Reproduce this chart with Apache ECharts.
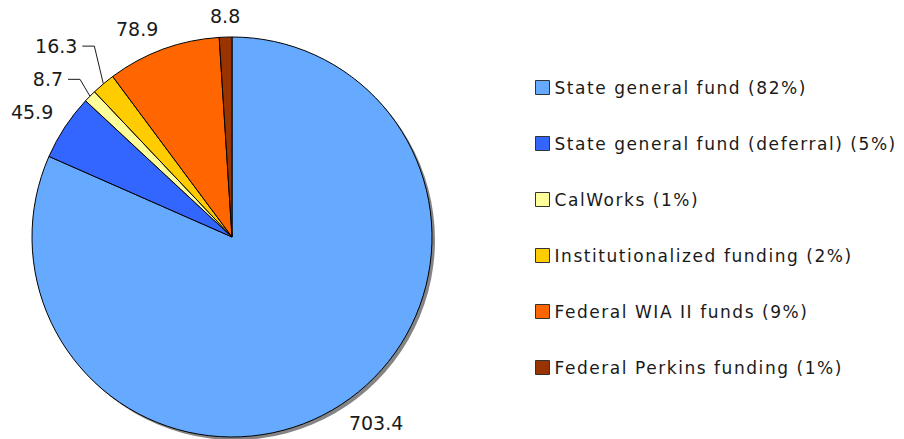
<!DOCTYPE html>
<html>
<head>
<meta charset="utf-8">
<script src="https://cdn.jsdelivr.net/npm/echarts@6/dist/echarts.min.js"></script>
<style>
  html, body { margin: 0; padding: 0; background: #fff; }
  #chart { width: 904px; height: 439px; }
</style>
</head>
<body>
<div id="chart"></div>
<script>
const categories = [
  'State general fund',
  'State general fund (deferral)',
  'CalWorks',
  'Institutionalized funding',
  'Federal WIA II funds',
  'Federal Perkins funding'
]
const amounts = [703.4, 45.9, 8.7, 16.3, 78.9, 8.8]
const colors = ['#66aaff', '#3366ff', '#ffff99', '#ffcc00', '#ff6600', '#993300']

// labels of the two thin slices are pulled aside and get a leader line
const leaderLabels = { 2: { up: 0 }, 3: { up: 20 } }

const total = amounts.reduce((a, b) => a + b, 0)
const fontFamily = '"DejaVu Sans", Verdana, sans-serif'

const chart = echarts.init(document.getElementById('chart'), null, { renderer: 'svg' })

const pieData = categories.map((name, i) => ({
  name: name,
  value: amounts[i],
  itemStyle: { color: colors[i] },
  labelLine: { show: leaderLabels[i] !== undefined }
}))

// put each label just outside the rim, on the side its slice points to
const placeLabel = function (params) {
  const pts = params.labelLinePoints
  if (!pts) return {}
  const p0 = pts[0]
  let dx = pts[1][0] - p0[0]
  let dy = pts[1][1] - p0[1]
  const len = Math.hypot(dx, dy) || 1
  dx /= len
  dy /= len
  const gap = 14
  const ax = p0[0] + dx * gap
  const ay = p0[1] + dy * gap
  const hw = params.labelRect.width / 2
  const hh = 7
  const sx = dx < -0.2 ? -1 : dx > 0.2 ? 1 : 0
  const sy = dy < -0.2 ? -1 : dy > 0.2 ? 1 : 0
  const lead = leaderLabels[params.dataIndex]
  if (lead) {
    const bendX = ax
    const cy = ay - hh - lead.up
    const right = bendX - 17
    return {
      x: right - hw,
      y: cy,
      align: 'center',
      verticalAlign: 'middle',
      labelLinePoints: [[p0[0], p0[1]], [bendX, cy], [right + 5, cy]]
    }
  }
  return {
    x: ax + sx * hw,
    y: ay + sy * hh,
    align: 'center',
    verticalAlign: 'middle'
  }
}

const option = {
  animation: false,
  legend: {
    data: categories,
    orient: 'vertical',
    left: 530,
    top: 74,
    itemWidth: 14,
    itemHeight: 14,
    itemGap: 39,
    icon: 'rect',
    itemStyle: { borderColor: '#333', borderWidth: 1 },
    textStyle: { fontFamily: fontFamily, fontSize: 17, color: '#1a1a1a' },
    formatter: function (name) {
      const v = amounts[categories.indexOf(name)]
      return name + ' (' + Math.round(v / total * 100) + '%)'
    },
    selectedMode: false
  },
  series: [
    {
      // drop shadow under the pie
      type: 'pie',
      silent: true,
      center: [235, 240],
      radius: 200,
      label: { show: false },
      labelLine: { show: false },
      legendHoverLink: false,
      data: [{ name: 'shadow', value: 1, itemStyle: { color: '#858585' } }],
      z: 1
    },
    {
      type: 'pie',
      center: [232, 237],
      radius: 200,
      startAngle: 90,
      clockwise: true,
      avoidLabelOverlap: false,
      itemStyle: { borderColor: '#000', borderWidth: 1 },
      label: {
        show: true,
        position: 'outside',
        fontFamily: fontFamily,
        fontSize: 19,
        color: '#1a1a1a',
        formatter: p => p.value.toFixed(1)
      },
      labelLine: {
        length: 10,
        length2: 0,
        lineStyle: { color: '#1a1a1a', width: 1 }
      },
      labelLayout: placeLabel,
      data: pieData,
      z: 2
    }
  ]
}

chart.setOption(option)

// the legend text in the original is set a little wider
const spreadLegend = function () {
  document.querySelectorAll('#chart text').forEach(t => {
    if (t.textContent.indexOf('%') >= 0) t.style.letterSpacing = '1.55px'
  })
}
spreadLegend()
chart.on('finished', spreadLegend)
</script>
</body>
</html>
